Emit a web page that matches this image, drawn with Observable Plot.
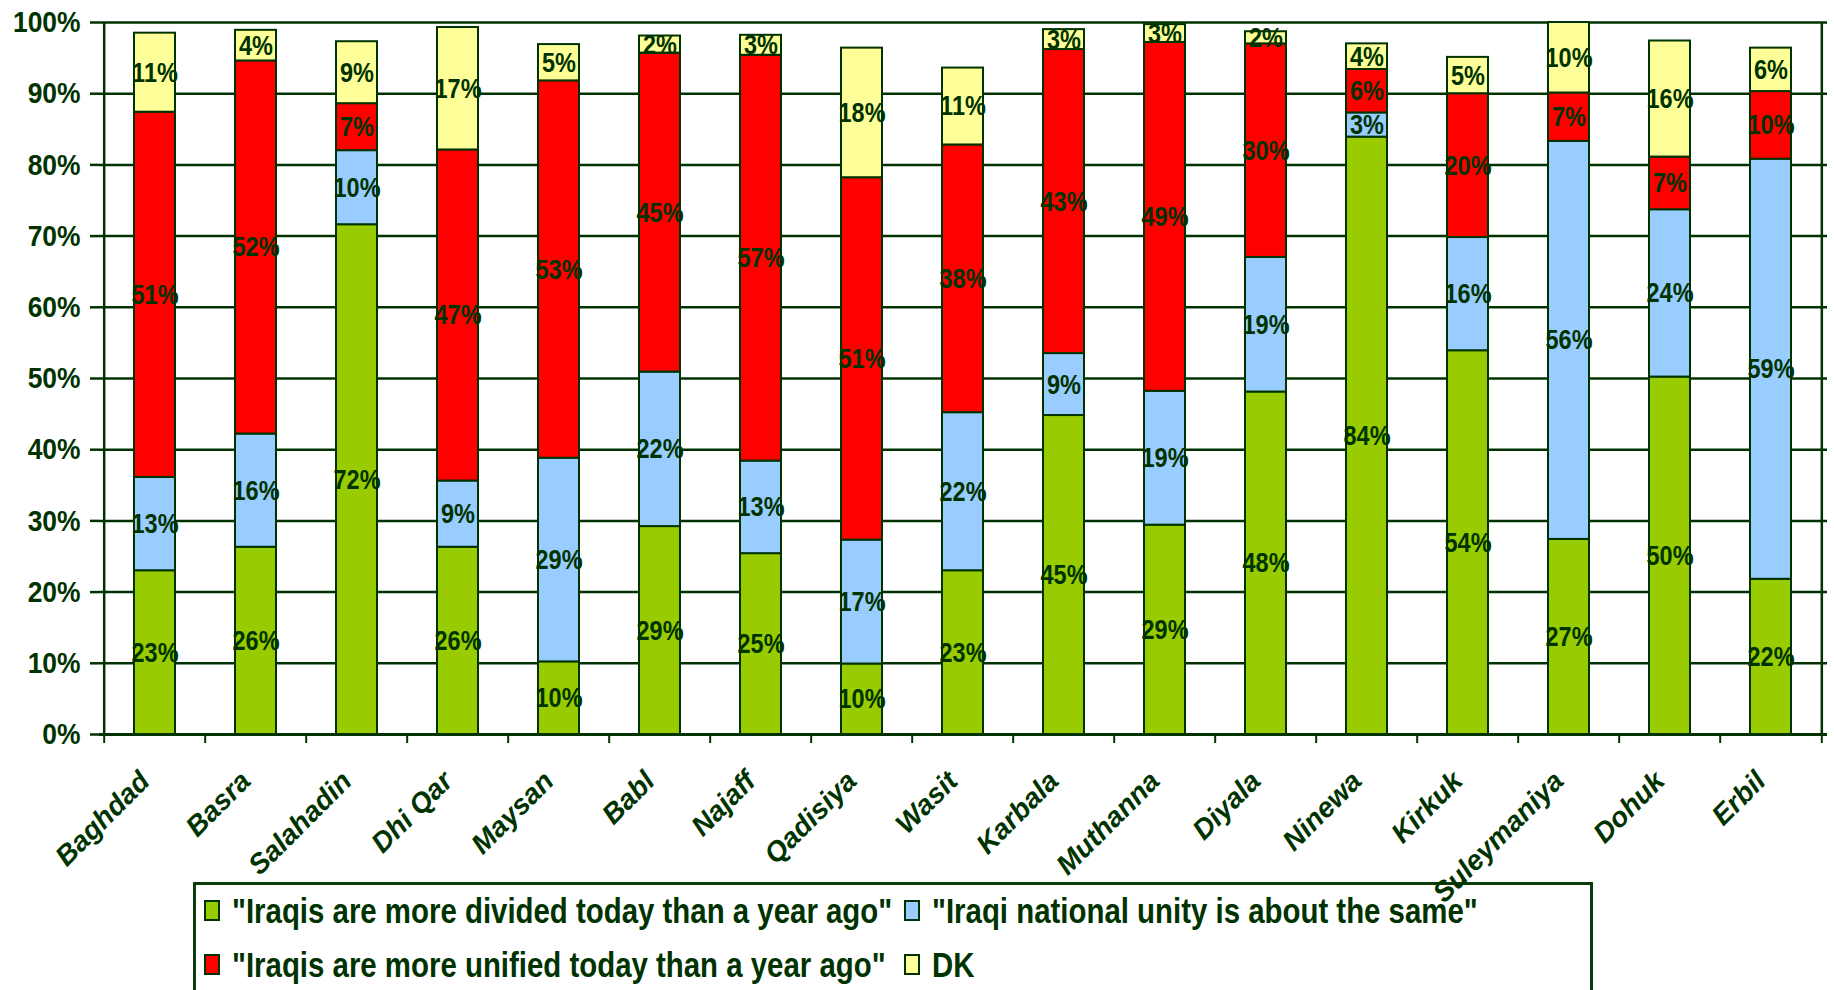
<!DOCTYPE html>
<html><head><meta charset="utf-8">
<script src="https://cdn.jsdelivr.net/npm/d3@7"></script>
<script src="https://cdn.jsdelivr.net/npm/@observablehq/plot@0.6"></script>
<style>
html,body{margin:0;padding:0;background:#fff;overflow:hidden;width:1834px;height:990px}
#wrap{position:relative;width:1834px;height:990px}
#legend{position:absolute;left:193px;top:882px;width:1400px;height:140px;border:3px solid #0b3b0b;box-sizing:border-box}
.item{position:absolute;display:flex;align-items:center;font-family:"Liberation Sans",Arial,sans-serif;font-weight:bold;font-size:35px;color:#003300;white-space:nowrap;line-height:1}
.sw{width:12px;height:17px;border:2px solid #003300;margin-right:12px;flex:none}
.tx{display:inline-block;transform:scaleX(0.84);transform-origin:0 50%}
#chart{position:absolute;left:0;top:0}
</style>
</head><body>
<div id="wrap">
  <div id="legend"></div>
  <div id="chart"></div>
</div>
<script>
const regions = ["Baghdad","Basra","Salahadin","Dhi Qar","Maysan","Babl","Najaff","Qadisiya","Wasit","Karbala","Muthanna","Diyala","Ninewa","Kirkuk","Suleymaniya","Dohuk","Erbil"];
const divided = [23.0,26.3,71.6,26.3,10.2,29.2,25.4,9.9,23.0,44.8,29.4,48.1,83.9,53.9,27.4,50.2,21.8];
const same    = [13.1,15.9,10.4,9.3,28.6,21.7,13.0,17.4,22.2,8.7,18.8,18.9,3.4,15.9,55.9,23.5,59.0];
const unified = [51.3,52.4,6.6,46.5,53.0,44.8,57.0,50.9,37.6,42.7,49.0,30.0,6.1,20.2,6.8,7.4,9.5];
const dk      = [11.1,4.3,8.7,17.2,5.1,2.4,2.8,18.2,10.8,2.8,2.5,1.7,3.6,5.1,9.9,16.3,6.1];
const seriesKeys   = ["divided","same","unified","dk"];
const seriesLabels = ['"Iraqis are more divided today than a year ago"','"Iraqi national unity is about the same"','"Iraqis are more unified today than a year ago"','DK'];
const seriesColors = ["#99CC00","#99CCFF","#FF0000","#FFFF99"];
const seriesValues = [divided, same, unified, dk];
const yTicks = [0,10,20,30,40,50,60,70,80,90,100];

const rows = [];
regions.forEach((r, i) => {
  let base = 0;
  seriesKeys.forEach((k, j) => {
    const v = seriesValues[j][i];
    rows.push({region: r, series: k, value: v, y1: base, y2: base + v});
    base += v;
  });
});

const W = 1834, H = 990, mL = 99, mR = 7, mT = 22, mB = 256;
const step = (W - mL - mR) / regions.length;
const ink = "#003300";
const font = '"Liberation Sans",Arial,sans-serif';

const chart = Plot.plot({
  width: W, height: H,
  marginLeft: mL, marginRight: mR, marginTop: mT, marginBottom: mB,
  style: {background: "transparent", color: ink, overflow: "visible", fontFamily: font},
  x: {domain: regions, paddingInner: 0.59, paddingOuter: 0.295, label: null},
  y: {domain: [0, 100], label: null},
  color: {domain: seriesKeys, range: seriesColors},
  marks: [
    Plot.ruleY(yTicks, {stroke: ink, strokeWidth: 2.5}),
    Plot.rectY(rows, {x: "region", y1: "y1", y2: "y2", fill: "series", stroke: ink, strokeWidth: 2}),
    Plot.text(rows, {x: "region", y: d => (d.y1 + d.y2) / 2, text: d => Math.round(d.value) + "%", fill: ink, fontSize: 28, fontWeight: "bold"}),
    Plot.ruleX([regions[0]], {x: d => d, dx: -step / 2, stroke: ink, strokeWidth: 2.5}),
    Plot.ruleX([regions[regions.length - 1]], {x: d => d, dx: step / 2, stroke: ink, strokeWidth: 2.5}),
    Plot.ruleY([0], {stroke: ink, strokeWidth: 3}),
    Plot.ruleX(regions, {x: d => d, y1: 0, y2: 0, insetBottom: -9, dx: -step / 2, stroke: ink, strokeWidth: 2}),
    Plot.ruleX([regions[regions.length - 1]], {x: d => d, y1: 0, y2: 0, insetBottom: -9, dx: step / 2, stroke: ink, strokeWidth: 2}),
    Plot.axisY({ticks: yTicks, tickFormat: d => d + "%", tickSize: 9, tickPadding: 10, fontSize: 30, fontWeight: "bold", stroke: ink, strokeWidth: 2.5, fill: ink}),
    Plot.axisX({tickRotate: -45, tickSize: 0, tickPadding: 42, dx: -10, fontSize: 28, fontWeight: "bold", fontStyle: "italic", fill: ink})
  ]
});

// condense the narrow-font texts (Arial Narrow look) around their anchors
function condense(sel, k) {
  d3.select(chart).selectAll(sel).each(function () {
    const tr = this.getAttribute("transform");
    if (tr) {
      this.setAttribute("transform", tr + ` scale(${k},1)`);
    } else {
      const x = +this.getAttribute("x") || 0, y = +this.getAttribute("y") || 0;
      this.removeAttribute("x"); this.removeAttribute("y");
      this.setAttribute("transform", `translate(${x},${y}) scale(${k},1)`);
    }
  });
}
condense('g[aria-label="text"] text', 0.84);
condense('g[aria-label="y-axis tick label"] text', 0.88);
document.getElementById("chart").appendChild(chart);

const legend = document.getElementById("legend");
const pos = [[8, 8], [708, 8], [8, 62], [708, 62]];
seriesKeys.forEach((k, j) => {
  const it = document.createElement("div");
  it.className = "item";
  it.style.left = pos[j][0] + "px";
  it.style.top = pos[j][1] + "px";
  const sw = document.createElement("span");
  sw.className = "sw";
  sw.style.background = seriesColors[j];
  const tx = document.createElement("span");
  tx.className = "tx";
  tx.textContent = seriesLabels[j];
  it.appendChild(sw); it.appendChild(tx);
  legend.appendChild(it);
});
</script>
</body></html>
